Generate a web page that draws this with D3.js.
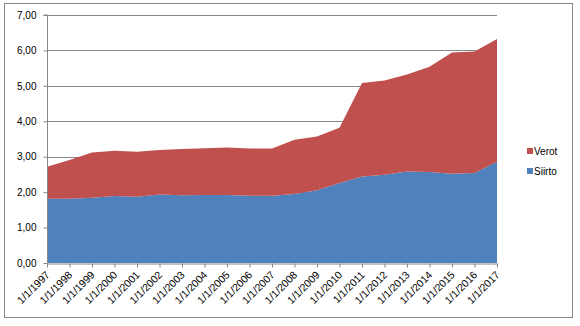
<!DOCTYPE html>
<html>
<head>
<meta charset="utf-8">
<script src="https://cdn.jsdelivr.net/npm/d3@7"></script>
<style>
  html, body { margin: 0; padding: 0; background: #fff; }
  svg { display: block; }
  text { font-family: "Liberation Sans", Arial, sans-serif; fill: #000; }
</style>
</head>
<body>
<svg id="chart" width="580" height="326"></svg>
<script>
// Categories (1 January of each year)
const years = ["1/1/1997","1/1/1998","1/1/1999","1/1/2000","1/1/2001","1/1/2002","1/1/2003",
  "1/1/2004","1/1/2005","1/1/2006","1/1/2007","1/1/2008","1/1/2009","1/1/2010","1/1/2011",
  "1/1/2012","1/1/2013","1/1/2014","1/1/2015","1/1/2016","1/1/2017"];

// Stacked series
const siirto = [1.81,1.81,1.84,1.89,1.87,1.93,1.91,1.92,1.92,1.90,1.90,1.95,2.05,2.26,2.44,2.49,2.58,2.57,2.52,2.54,2.86];
const verot  = [0.91,1.10,1.28,1.28,1.27,1.26,1.31,1.32,1.34,1.33,1.33,1.53,1.52,1.56,2.64,2.66,2.74,2.97,3.42,3.43,3.46];

const yTicks = [0,1,2,3,4,5,6,7];
const seriesNames = ["Siirto","Verot"];
const colors = { Siirto: "#4F81BD", Verot: "#C0504D" };
const FONT = "Liberation Sans, Arial, sans-serif";

const svg = d3.select("#chart");

// outer chart frame
svg.append("rect").attr("x", 4.5).attr("y", 3.5).attr("width", 568).attr("height", 314)
  .attr("fill", "#fff").attr("stroke", "#868686").attr("stroke-width", 1);

const plot = { left: 47, right: 497, top: 15, bottom: 263 };

const x = d3.scalePoint().domain(years).range([plot.left, plot.right]);
const y = d3.scaleLinear().domain([0, 7]).range([plot.bottom, plot.top]);

const fmt = v => d3.format(".2f")(v).replace(".", ",");

// gridlines
svg.append("g").selectAll("line").data(yTicks.filter(d => d > 0)).join("line")
  .attr("x1", plot.left).attr("x2", plot.right)
  .attr("y1", d => Math.round(y(d)) + 0.5).attr("y2", d => Math.round(y(d)) + 0.5)
  .attr("stroke", "#868686").attr("stroke-width", 1);

// stacked areas
const rows = years.map((yr, i) => ({ year: yr, Siirto: siirto[i], Verot: verot[i] }));
const stack = d3.stack().keys(seriesNames)(rows);
const area = d3.area()
  .x(d => x(d.data.year))
  .y0(d => y(d[0]))
  .y1(d => y(d[1]));

svg.append("g").selectAll("path").data(stack).join("path")
  .attr("d", area)
  .attr("fill", d => colors[d.key]);

// y axis
const yAxis = d3.axisLeft(y).tickValues(yTicks).tickFormat(fmt).tickSize(4).tickPadding(7);
const gy = svg.append("g").attr("transform", `translate(${plot.left + 0.5},0)`).call(yAxis);
gy.select(".domain").attr("stroke", "#868686").attr("d", `M-4,${plot.top}H0V${plot.bottom}`);
gy.selectAll(".tick line").attr("stroke", "#868686");
gy.selectAll(".tick text").attr("font-size", 10).attr("font-family", FONT);

// x axis
const xAxis = d3.axisBottom(x).tickSize(4).tickSizeOuter(0);
const gx = svg.append("g").attr("transform", `translate(0,${plot.bottom + 0.5})`).call(xAxis);
gx.select(".domain").attr("stroke", "#868686");
gx.selectAll(".tick line").attr("stroke", "#868686");
gx.selectAll(".tick text")
  .attr("font-size", 10.5).attr("font-family", FONT)
  .attr("text-anchor", "end")
  .attr("dy", null).attr("y", 0)
  .attr("transform", "translate(3,12) rotate(-45)");

// legend
const legendItems = ["Verot", "Siirto"];
const lg = svg.append("g").selectAll("g").data(legendItems).join("g")
  .attr("transform", (d, i) => `translate(527,${148 + i * 20})`);
lg.append("rect").attr("width", 6).attr("height", 6).attr("fill", d => colors[d]);
lg.append("text").attr("x", 7).attr("y", 6.5).attr("font-size", 10).attr("font-family", FONT).text(d => d);
</script>
</body>
</html>
